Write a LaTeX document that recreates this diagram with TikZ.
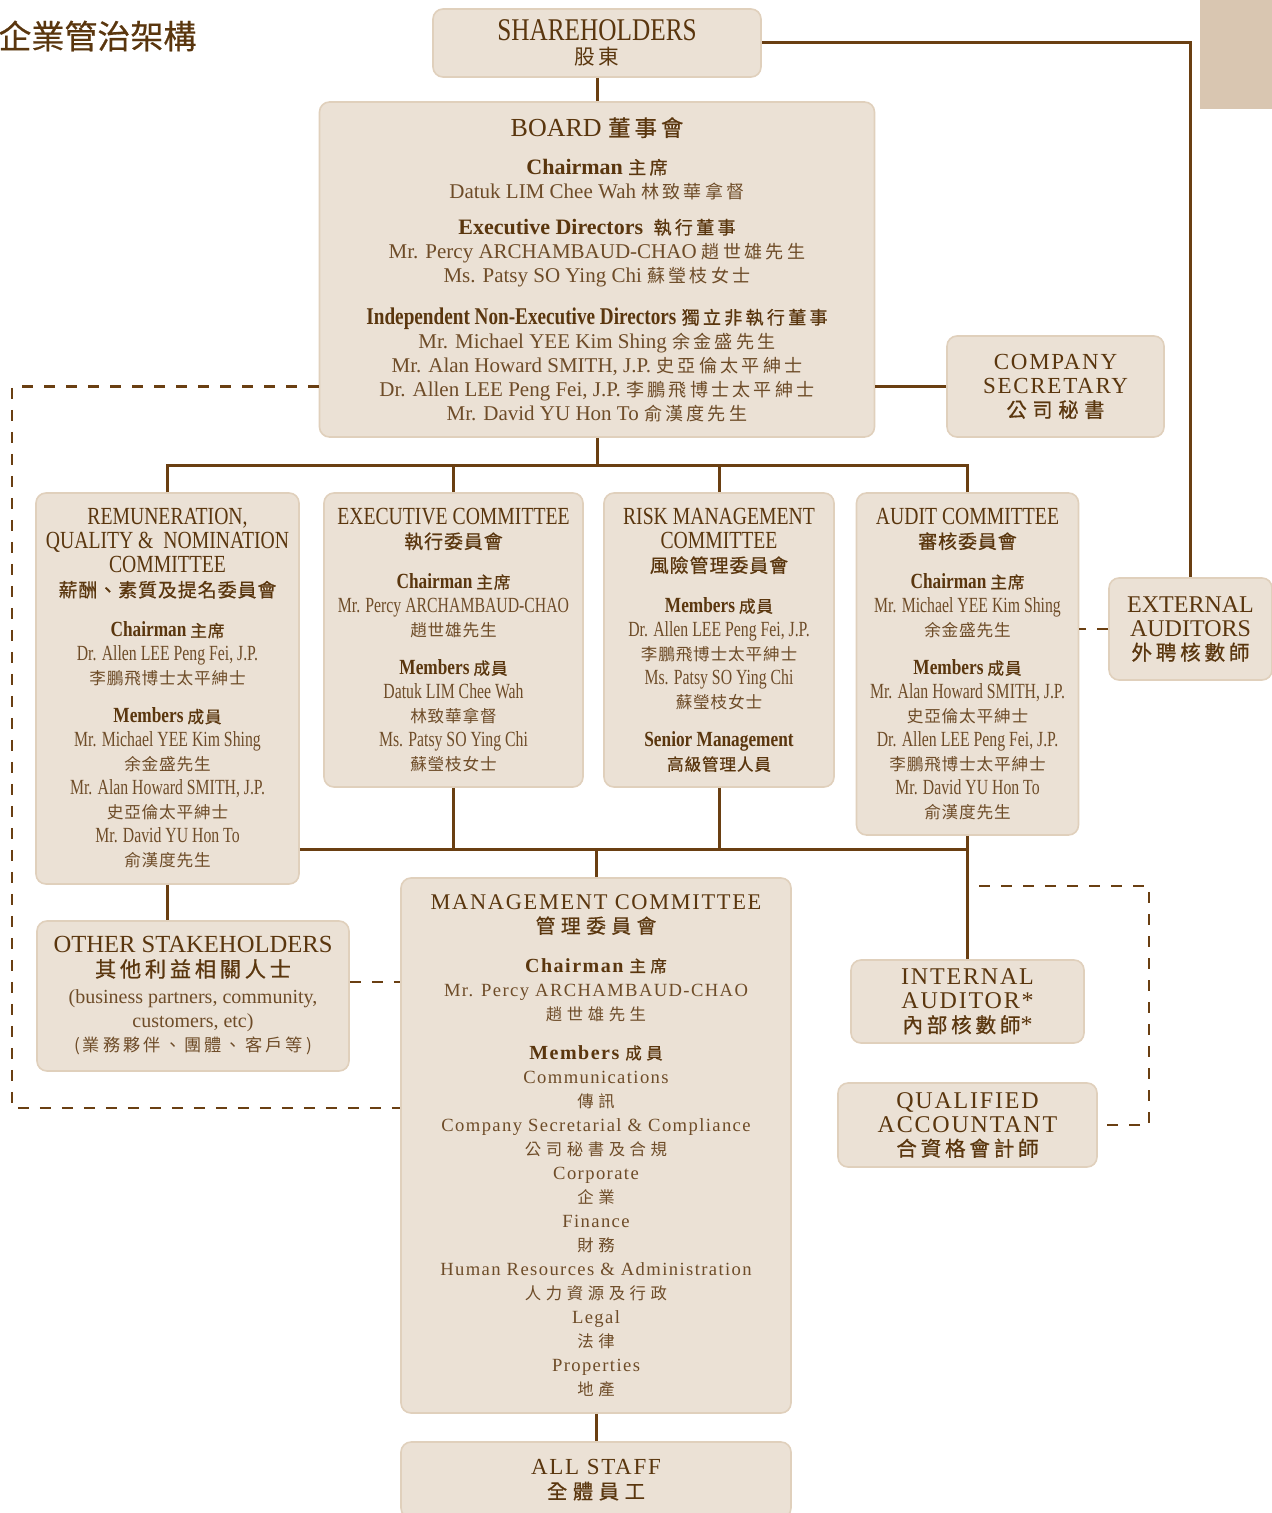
\documentclass[tikz,border=0pt]{standalone}
\usepackage{fontspec}
\setmainfont{Liberation Serif}
\newfontfamily\condfont[FakeStretch=0.73]{Liberation Serif}
\newfontfamily\condhead[FakeStretch=0.8]{Liberation Serif}
\newfontfamily\widefont[LetterSpace=7.5]{Liberation Serif}
\newfontfamily\cjkn[Scale=0.86,LetterSpace=18,BoldFont={Noto Sans CJK TC},BoldFeatures={FakeBold=0.7}]{Noto Sans CJK TC}
\newfontfamily\cjkc[Scale=0.77,LetterSpace=5,BoldFont={Noto Sans CJK TC},BoldFeatures={FakeBold=0.7}]{Noto Sans CJK TC}
\newfontfamily\cjkw[Scale=0.88,LetterSpace=28,BoldFont={Noto Sans CJK TC},BoldFeatures={FakeBold=0.7}]{Noto Sans CJK TC}
\newfontfamily\cjkt[FakeBold=0.6]{Noto Sans CJK TC}

\definecolor{headbrown}{HTML}{5A360E}
\definecolor{bodybrown}{HTML}{6E4C28}
\definecolor{linebrown}{HTML}{6A3F12}
\definecolor{boxfill}{HTML}{EBE1D5}
\definecolor{boxline}{HTML}{E0D0BC}
\definecolor{cornerfill}{HTML}{D9C6B1}

\let\cjk\cjkn
\def\hdfont{}
\def\lblfont{\rmfamily}
\def\lblsize{11}
\newcommand\sz[1]{\fontsize{#1}{12}\selectfont}
\newcommand\zh[1]{{\cjk #1}}
\newcommand\hd[1]{{\hdfont\color{headbrown}#1}}
\newcommand\lbl[1]{{\lblfont\bfseries\sz{\lblsize}\color{headbrown}#1}}
\newcommand\lblzh[1]{{\cjk\bfseries\color{headbrown}#1}}

\begin{document}
\begin{tikzpicture}[x=0.5pt,y=-0.5pt,
    box/.style={draw=boxline, fill=boxfill, line width=0.8pt, rounded corners=5pt,
      inner sep=0pt, align=center, text=bodybrown},
    boardbox/.style={box, font={\rmfamily\sz{10.5}\def\hdfont{\sz{13}}}},
    cttee/.style={box, font={\condfont\sz{10.8}\let\cjk\cjkc\def\hdfont{\condhead\sz{12.3}}\def\lblfont{\condhead}\def\lblsize{10.8}}},
    mgmtbox/.style={box, font={\widefont\sz{9.3}\let\cjk\cjkw\def\hdfont{\widefont\sz{11.2}}\def\lblfont{\widefont}\def\lblsize{10}}},
    headbox/.style={box, font={\widefont\sz{11}\let\cjk\cjkw\def\hdfont{\widefont\sz{11.5}}}},
    plainbox/.style={box, font={\rmfamily\sz{10}\def\hdfont{\rmfamily\sz{12.3}}}},
    link/.style={draw=linebrown, line width=1.5pt},
    dashlink/.style={draw=linebrown, line width=1.4pt, dash pattern=on 5.5pt off 5.5pt}]

  \useasboundingbox (0,0) rectangle (1271,1513);
  \fill[cornerfill] (1200,-5) rectangle (1276,109);

  \node[anchor=west, inner sep=0pt, text=headbrown, font=\cjkt\fontsize{16.5}{18}\selectfont] (title) at (-2,36) {企業管治架構};

  % top of the tree
  \node[plainbox, minimum width=164pt, minimum height=34pt, font={\def\hdfont{\condhead\sz{15.8}}}] (share) at (597,43) {%
    \hd{SHAREHOLDERS}\\
    \hd{\zh{\sz{12}股東}}};

  \node[boardbox, minimum width=277.5pt, minimum height=167.5pt] (board) at (597,269.5) {%
    \hd{BOARD \zh{\bfseries 董事會}}\\[7pt]
    \lbl{Chairman} \lblzh{主席}\\
    Datuk LIM Chee Wah \zh{林致華拿督}\\[6pt]
    \lbl{Executive Directors}\ \ \lblzh{執行董事}\\
    Mr. Percy ARCHAMBAUD-CHAO \zh{趙世雄先生}\\
    Ms. Patsy SO Ying Chi \zh{蘇瑩枝女士}\\[9pt]
    {\condhead\bfseries\sz{12}\color{headbrown}Independent Non-Executive Directors} \lblzh{獨立非執行董事}\\
    Mr. Michael YEE Kim Shing \zh{余金盛先生}\\
    Mr. Alan Howard SMITH, J.P. \zh{史亞倫太平紳士}\\
    Dr. Allen LEE Peng Fei, J.P. \zh{李鵬飛博士太平紳士}\\
    Mr. David YU Hon To \zh{俞漢度先生}};

  \node[headbox, minimum width=108.5pt, minimum height=50.5pt] (secr) at (1055.5,386.5) {%
    \hd{COMPANY}\\
    \hd{SECRETARY}\\
    \hd{\zh{\bfseries 公司秘書}}};

  % committees
  \node[cttee, minimum width=131.5pt, minimum height=195.5pt] (remun) at (167.5,688.5) {%
    \hd{REMUNERATION,}\\
    \hd{QUALITY \&\ \ NOMINATION}\\
    \hd{COMMITTEE}\\
    \hd{\zh{\bfseries 薪酬、素質及提名委員會}}\\[8pt]
    \lbl{Chairman} \lblzh{主席}\\
    Dr. Allen LEE Peng Fei, J.P.\\
    \zh{李鵬飛博士太平紳士}\\[7pt]
    \lbl{Members} \lblzh{成員}\\
    Mr. Michael YEE Kim Shing\\
    \zh{余金盛先生}\\
    Mr. Alan Howard SMITH, J.P.\\
    \zh{史亞倫太平紳士}\\
    Mr. David YU Hon To\\
    \zh{俞漢度先生}};

  \node[cttee, minimum width=129.5pt, minimum height=147pt] (exec) at (453.5,640) {%
    \hd{EXECUTIVE COMMITTEE}\\
    \hd{\zh{\bfseries 執行委員會}}\\[8pt]
    \lbl{Chairman} \lblzh{主席}\\
    Mr. Percy ARCHAMBAUD-CHAO\\
    \zh{趙世雄先生}\\[7pt]
    \lbl{Members} \lblzh{成員}\\
    Datuk LIM Chee Wah\\
    \zh{林致華拿督}\\
    Ms. Patsy SO Ying Chi\\
    \zh{蘇瑩枝女士}};

  \node[cttee, minimum width=115pt, minimum height=147pt] (risk) at (719,640) {%
    \hd{RISK MANAGEMENT}\\
    \hd{COMMITTEE}\\
    \hd{\zh{\bfseries 風險管理委員會}}\\[8pt]
    \lbl{Members} \lblzh{成員}\\
    Dr. Allen LEE Peng Fei, J.P.\\
    \zh{李鵬飛博士太平紳士}\\
    Ms. Patsy SO Ying Chi\\
    \zh{蘇瑩枝女士}\\[7pt]
    \lbl{Senior Management}\\
    \lblzh{高級管理人員}};

  \node[cttee, minimum width=111pt, minimum height=171pt] (audit) at (967.5,664) {%
    \hd{AUDIT COMMITTEE}\\
    \hd{\zh{\bfseries 審核委員會}}\\[8pt]
    \lbl{Chairman} \lblzh{主席}\\
    Mr. Michael YEE Kim Shing\\
    \zh{余金盛先生}\\[7pt]
    \lbl{Members} \lblzh{成員}\\
    Mr. Alan Howard SMITH, J.P.\\
    \zh{史亞倫太平紳士}\\
    Dr. Allen LEE Peng Fei, J.P.\\
    \zh{李鵬飛博士太平紳士}\\
    Mr. David YU Hon To\\
    \zh{俞漢度先生}};

  \node[plainbox, minimum width=81.5pt, minimum height=51pt, font={\def\hdfont{\rmfamily\sz{12}}}] (ext) at (1190.5,629) {%
    \hd{EXTERNAL}\\
    \hd{AUDITORS}\\
    \hd{\zh{\bfseries 外聘核數師}}};

  % lower part
  \node[plainbox, minimum width=156pt, minimum height=75pt] (other) at (193,996) {%
    \hd{OTHER STAKEHOLDERS}\\
    \hd{\zh{\bfseries 其他利益相關人士}}\\[1.5pt]
    (business partners, community,\\
    customers, etc)\\
    \zh{(業務夥伴、團體、客戶等)}};

  \node[mgmtbox, minimum width=195pt, minimum height=267.5pt] (mgmt) at (596,1145.5) {%
    \hd{MANAGEMENT COMMITTEE}\\
    \hd{\zh{\bfseries 管理委員會}}\\[7.5pt]
    \lbl{Chairman} \lblzh{主席}\\
    Mr. Percy ARCHAMBAUD-CHAO\\
    \zh{趙世雄先生}\\[7.5pt]
    \lbl{Members} \lblzh{成員}\\
    Communications\\
    \zh{傳訊}\\
    Company Secretarial \& Compliance\\
    \zh{公司秘書及合規}\\
    Corporate\\
    \zh{企業}\\
    Finance\\
    \zh{財務}\\
    Human Resources \& Administration\\
    \zh{人力資源及行政}\\
    Legal\\
    \zh{法律}\\
    Properties\\
    \zh{地產}};

  \node[headbox, minimum width=195pt, minimum height=38pt] (staff) at (596,1480) {%
    \hd{ALL STAFF}\\
    \hd{\zh{\bfseries 全體員工}}};

  \node[headbox, minimum width=116.5pt, minimum height=41.5pt, font={\def\hdfont{\widefont\sz{12}}}] (inaud) at (967.5,1001.5) {%
    \hd{INTERNAL}\\
    \hd{AUDITOR*}\\
    \hd{\zh{\bfseries 內部核數師}*}};

  \node[headbox, minimum width=129.5pt, minimum height=42pt, font={\def\hdfont{\widefont\sz{12}}}] (qa) at (967.5,1125) {%
    \hd{QUALIFIED}\\
    \hd{ACCOUNTANT}\\
    \hd{\zh{\bfseries 合資格會計師}}};

  % connectors
  \coordinate (tb) at (0,465);
  \coordinate (lb) at (0,849);
  \coordinate (od) at (0,982);
  \coordinate (lc) at (12,1108);
  \coordinate (qd) at (979,886);
  \coordinate (qc) at (1149,886);

  \draw[link] (share.east) -| (ext.north);
  \draw[link] (share.south) -- (board.north);
  \draw[link] (secr.west) -- (secr.west -| board.east);
  \draw[link] (board.south) -- (board.south |- tb);
  \draw[link] (remun.north) -- (remun.north |- tb) -| (audit.north);
  \draw[link] (exec.north) -- (exec.north |- tb);
  \draw[link] (risk.north) -- (risk.north |- tb);
  \draw[link] (remun.east |- lb) -- (audit.south |- lb);
  \draw[link] (exec.south) -- (exec.south |- lb);
  \draw[link] (risk.south) -- (risk.south |- lb);
  \draw[link] (mgmt.north) -- (mgmt.north |- lb);
  \draw[link] (audit.south) -- (inaud.north);
  \draw[link] (remun.south) -- (remun.south |- other.north);
  \draw[link] (mgmt.south) -- (staff.north);

  \draw[dashlink] (secr.west -| board.west) -| (lc) -- (lc -| mgmt.west);
  \draw[dashlink] (other.east |- od) -- (mgmt.west |- od);
  \draw[dashlink] (ext.west) -- (ext.west -| audit.east);
  \draw[dashlink] (qd) -- (qc) |- (qa.east);
\end{tikzpicture}
\end{document}
